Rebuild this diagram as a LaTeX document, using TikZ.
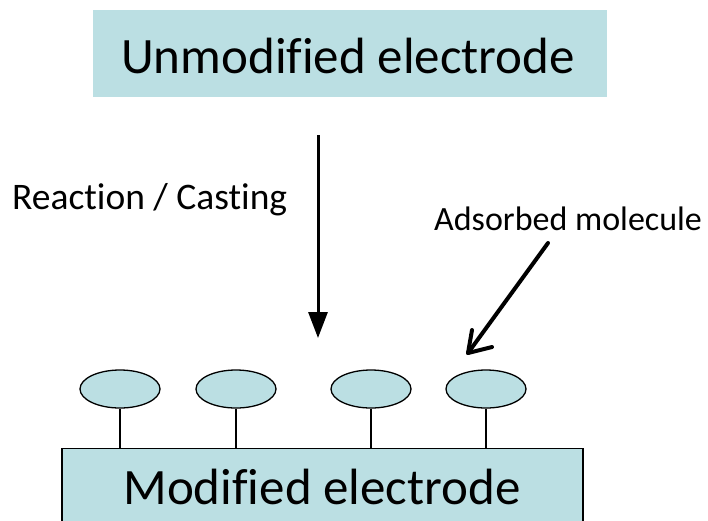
\documentclass[tikz,border=0pt]{standalone}
\usepackage{fontspec}
\setmainfont{Carlito}[Ligatures=NoCommon]
\usetikzlibrary{arrows.meta,shapes.geometric}
\definecolor{elec}{RGB}{187,223,227}
\begin{document}
\begin{tikzpicture}[x=1pt,y=-1pt,
  bigtext/.style={font=\fontsize{51}{54}\selectfont},
  midtext/.style={font=\fontsize{37.5}{40}\selectfont},
  smalltext/.style={font=\fontsize{34}{38}\selectfont},
  molecule/.style={ellipse,draw=black,line width=1.3pt,fill=elec,minimum width=80pt,minimum height=38pt,inner sep=0pt},
  stem/.style={line width=1.3pt}]
\useasboundingbox (0,0) rectangle (708,520);
\begin{scope}
\clip (0,0) rectangle (708,520);
% top box
\node[fill=elec,minimum width=514pt,minimum height=87pt,inner sep=0pt] (top) at (350,53.5) {};
\node[bigtext,anchor=base] (toptext) at (348,73) {Unmodified electrode};
% bottom box
\node[draw=black,line width=1.3pt,fill=elec,minimum width=521pt,minimum height=90pt,inner sep=0pt,anchor=north] (bot) at (322.5,448) {};
\node[bigtext,anchor=base] (bottext) at (322,504) {Modified electrode};
% molecules
\foreach \i/\x in {1/120,2/236,3/371,4/486}{
  \node[molecule] (m\i) at (\x,389) {};
  \draw[stem] (m\i.south) -- (m\i.south |- bot.north);
}
% labels
\node[midtext,anchor=base west,inner sep=0pt] (react) at (12,209) {Reaction / Casting};
\node[smalltext,anchor=base west,inner sep=0pt] (ads) at (434,230) {Adsorbed molecule};
% vertical arrow
\coordinate (vstart) at (318,135);
\coordinate (vend) at (318,338);
\draw[line width=3pt,-{Triangle[length=26pt,width=19pt]}] (vstart) -- (vend);
% diagonal arrow
\coordinate (dstart) at (548,243);
\coordinate (dtip) at (468,353);
\draw[line width=4pt,line cap=round,line join=round] (dstart) -- (dtip);
\draw[line width=4pt,line cap=round,line join=round] (472,330) -- (dtip) -- (492,347);
\end{scope}
\end{tikzpicture}
\end{document}
